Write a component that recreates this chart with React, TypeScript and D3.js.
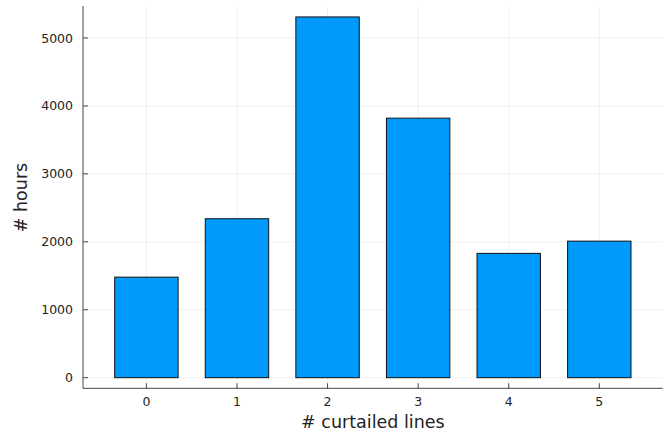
import React from "react";
import * as d3 from "d3";

const categories = [0, 1, 2, 3, 4, 5];
const hours = [1480, 2340, 5310, 3820, 1830, 2010];
const yTicks = [0, 1000, 2000, 3000, 4000, 5000];
const xLabel = "# curtailed lines";
const yLabel = "# hours";

const W = 670;
const H = 435;
const left = 83;
const right = 662.7;
const top = 6;
const bottom = 388.3;

export default function App() {
  const x = d3.scaleLinear().domain([-0.7, 5.7]).range([left, right]);
  const y = d3.scaleLinear().domain([0, 5000]).range([377.7, 38]);
  const barW = (x(1) - x(0)) * 0.7;
  const font = "DejaVu Sans, sans-serif";
  const grid = "rgba(0,0,0,0.1)";
  const axis = "#444";
  return (
    <svg width={W} height={H} style={{ position: "absolute", left: 0, top: 0, background: "#fff" }}>
      {/* grid */}
      {yTicks.map((t) => (
        <line key={"gy" + t} x1={left} x2={right} y1={y(t)} y2={y(t)} stroke={grid} strokeWidth={0.6} />
      ))}
      {categories.map((c) => (
        <line key={"gx" + c} x1={x(c)} x2={x(c)} y1={top} y2={bottom} stroke={grid} strokeWidth={0.6} />
      ))}
      {/* bars */}
      {categories.map((c, i) => (
        <rect
          key={"b" + c}
          x={x(c) - barW / 2}
          y={y(hours[i])}
          width={barW}
          height={y(0) - y(hours[i])}
          fill="#009AFA"
          stroke="#111"
          strokeWidth={1}
        />
      ))}
      {/* axes */}
      <line x1={left} x2={left} y1={top} y2={bottom} stroke={axis} strokeWidth={1} />
      <line x1={left} x2={right} y1={bottom} y2={bottom} stroke={axis} strokeWidth={1} />
      {yTicks.map((t) => (
        <g key={"ty" + t}>
          <line x1={left} x2={left + 5} y1={y(t)} y2={y(t)} stroke={axis} strokeWidth={1} />
          <text x={left - 10} y={y(t)} dy="0.36em" textAnchor="end" fontFamily={font} fontSize={12.5} fill="#222">
            {t}
          </text>
        </g>
      ))}
      {categories.map((c) => (
        <g key={"tx" + c}>
          <line x1={x(c)} x2={x(c)} y1={bottom} y2={bottom - 5} stroke={axis} strokeWidth={1} />
          <text x={x(c)} y={406} textAnchor="middle" fontFamily={font} fontSize={12.5} fill="#222">
            {c}
          </text>
        </g>
      ))}
      <text x={(left + right) / 2} y={428} textAnchor="middle" fontFamily={font} fontSize={17.5} fill="#222">
        {xLabel}
      </text>
      <text
        transform={`translate(27, 197.5) rotate(-90)`}
        textAnchor="middle"
        fontFamily={font}
        fontSize={17.5}
        fill="#222"
      >
        {yLabel}
      </text>
    </svg>
  );
}
